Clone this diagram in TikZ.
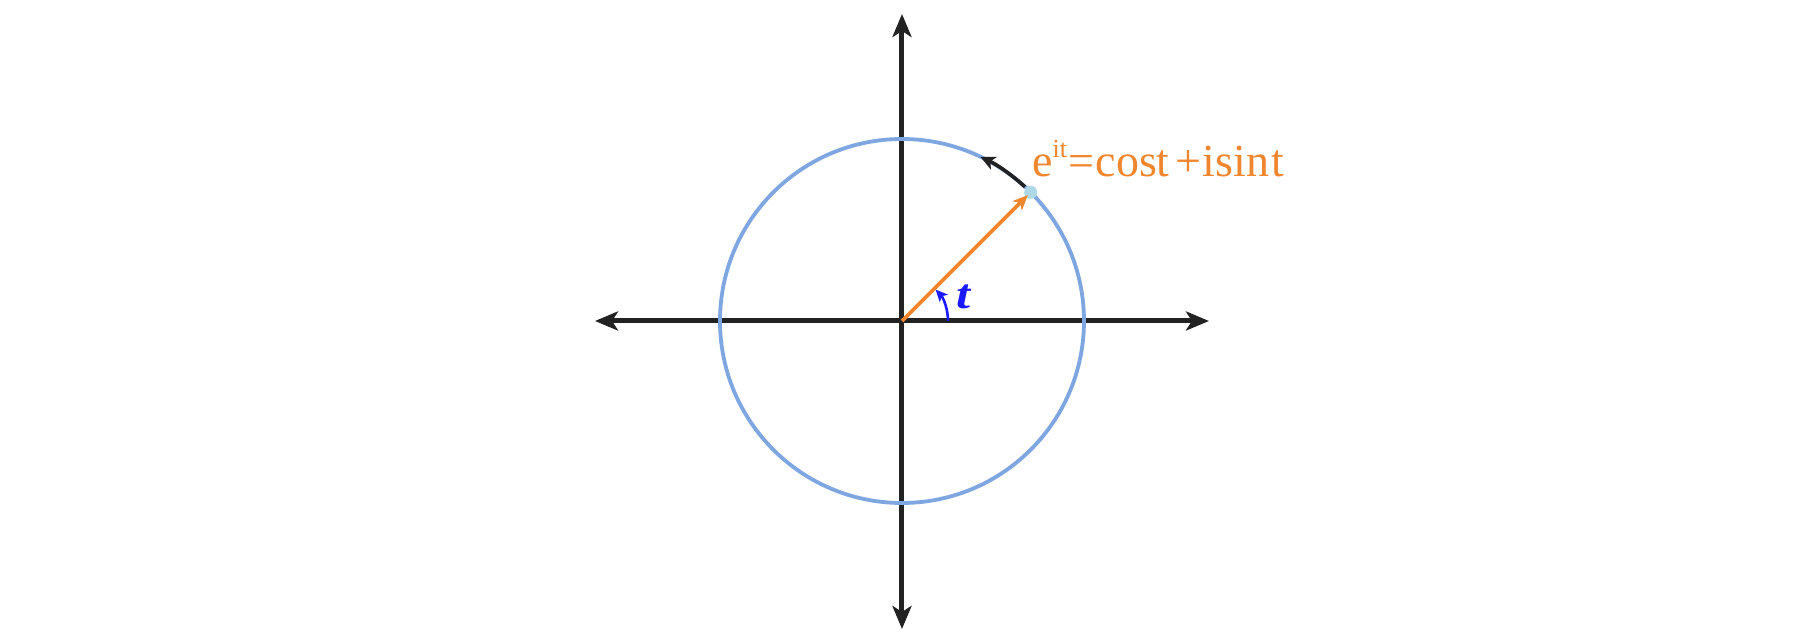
\documentclass[tikz,border=0pt]{standalone}
\usepackage{fontspec}
\setmainfont{Liberation Serif}
\usetikzlibrary{arrows.meta}
\definecolor{axisC}{HTML}{222222}
\definecolor{circC}{HTML}{7EA6E0}
\definecolor{orC}{HTML}{F0862E}
\definecolor{dotC}{HTML}{ADD8E6}
\definecolor{tC}{HTML}{1A1AFF}
\tikzset{
  axisline/.style={draw=axisC, line width=5pt, {Stealth[length=23pt,width=19pt,inset=6pt]}-{Stealth[length=23pt,width=19pt,inset=6pt]}},
  circline/.style={draw=circC, line width=3.8pt},
  vecline/.style={draw=orC, line width=3.6pt, -{Stealth[length=15pt,width=13pt,inset=4pt]}},
  rotline/.style={draw=axisC, line width=3.6pt, -{Stealth[length=15pt,width=14pt,inset=4pt]}},
  angline/.style={draw=tC, line width=2.6pt, -{Stealth[length=12pt,width=11pt,inset=3pt]}},
}
\begin{document}
\begin{tikzpicture}[x=1pt,y=1pt]
\useasboundingbox[fill=white] (-902,-323) rectangle (908,321);
\coordinate (O) at (0,0);
\coordinate (L) at (-307,0);
\coordinate (R) at (307,0);
\coordinate (T) at (0,307);
\coordinate (B) at (0,-308);
\coordinate (P) at (45:182);
\coordinate (Ptip) at (45:178);
\draw[axisline] (L) -- (R);
\draw[axisline] (B) -- (T);
\draw[circline] (O) circle[radius=182];
\draw[rotline] (47.5:182) arc[start angle=47.5, end angle=64.5, radius=182];
\fill[dotC] (P) circle[radius=6.5];
\draw[vecline] (O) -- (Ptip);
\draw[angline] (0:46) arc[start angle=0, end angle=43, radius=46];
\node[anchor=base west, inner sep=0, outer sep=0, text=tC, font=\fontsize{42}{44}\selectfont\bfseries\itshape] (tlab) at (55,12) {\scalebox{1.2}[1]{t}};
\node[anchor=base west, inner sep=0, outer sep=0, text=orC, font=\fontsize{46}{50}\selectfont] (eq) at (130,144.3) {e\kern0.3pt\raisebox{18.7pt}{\fontsize{26}{26}\selectfont it}\kern1.5pt=\kern1.1pt cos\kern-0.5pt t\kern6.4pt+\kern1.1pt isin\kern2.8pt t};
\end{tikzpicture}
\end{document}
